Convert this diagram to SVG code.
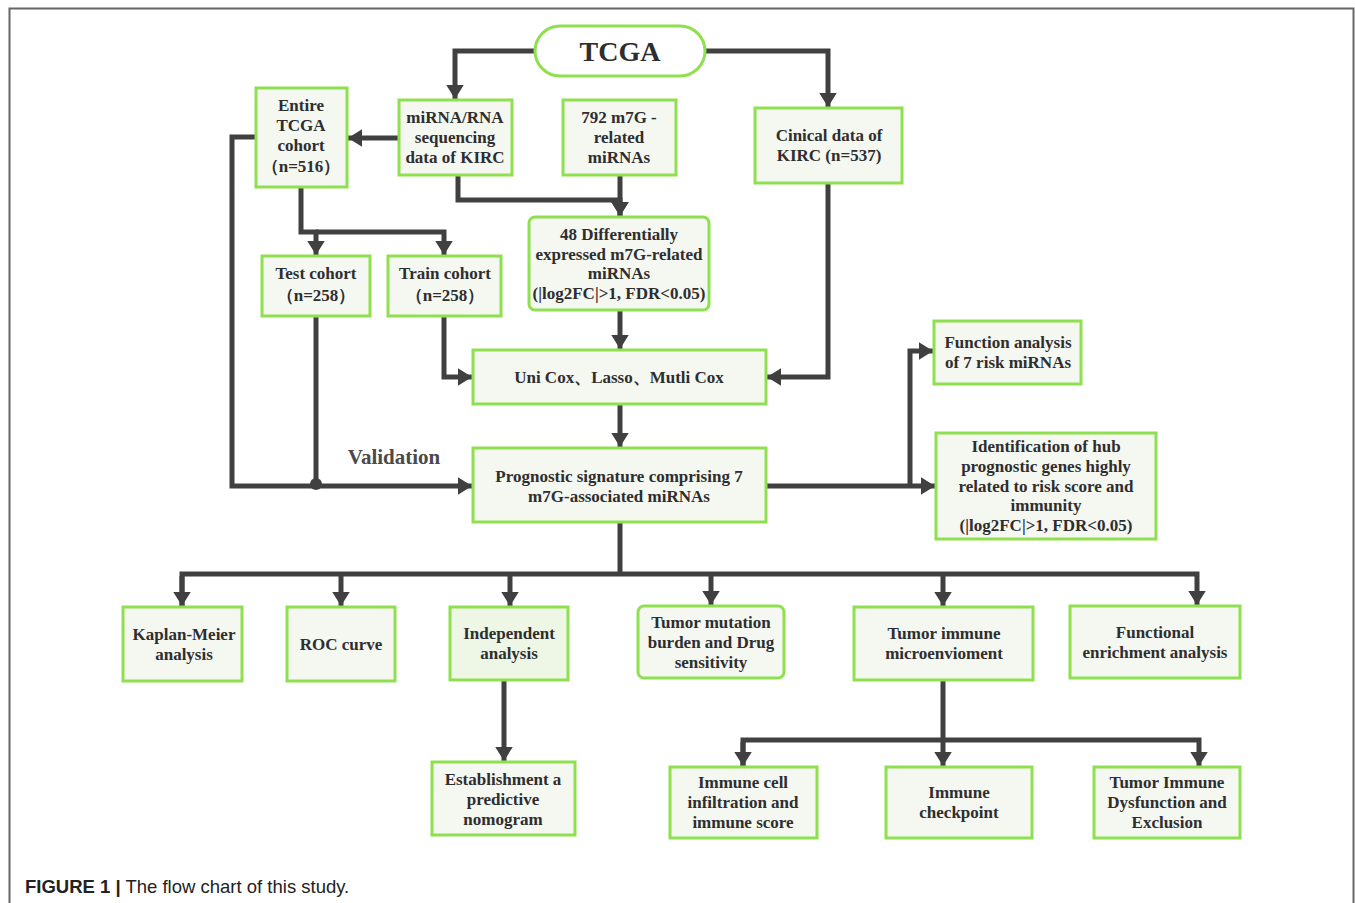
<svg xmlns="http://www.w3.org/2000/svg" width="1355" height="903" viewBox="0 0 1355 903">
<style>
.bx{fill:#f5f7f1;stroke:#8fe04f;stroke-width:3}
.t{font-family:"Liberation Serif","Times New Roman",serif;font-weight:bold;font-size:17px;fill:#2e2e2e;text-anchor:middle}
.ln{fill:none;stroke:#404040;stroke-width:5;stroke-linejoin:miter}
</style>
<defs>
<marker id="ah" viewBox="0 0 8 10" refX="8" refY="5" markerWidth="2.8" markerHeight="3.5" markerUnits="strokeWidth" orient="auto">
<path d="M0,0 L8,5 L0,10 z" fill="#404040"/>
</marker>
</defs>
<rect x="0" y="0" width="1355" height="903" fill="#fff"/>
<path d="M9.5,903 V8.5 H1353.5 V903" fill="none" stroke="#666" stroke-width="2"/>

<g id="connectors">
<path class="ln" d="M535,51 H455 V99" marker-end="url(#ah)"/>
<path class="ln" d="M705,51 H828 V107" marker-end="url(#ah)"/>
<path class="ln" d="M399,138 H348" marker-end="url(#ah)"/>
<path class="ln" d="M256,137 H232 V486 H472" marker-end="url(#ah)"/>
<path class="ln" d="M316,316 V486"/>
<circle cx="316" cy="484" r="6" fill="#404040"/>
<path class="ln" d="M301,187 V232 H316 V255" marker-end="url(#ah)"/>
<path class="ln" d="M316,232 H444 V255" marker-end="url(#ah)"/>
<path class="ln" d="M458,175 V200 H620 V216" marker-end="url(#ah)"/>
<path class="ln" d="M620,175 V216" marker-end="url(#ah)"/>
<path class="ln" d="M620,310 V349" marker-end="url(#ah)"/>
<path class="ln" d="M444,316 V377 H472" marker-end="url(#ah)"/>
<path class="ln" d="M828,183 V377 H767" marker-end="url(#ah)"/>
<path class="ln" d="M620,404 V447" marker-end="url(#ah)"/>
<path class="ln" d="M766,486 H935" marker-end="url(#ah)"/>
<path class="ln" d="M910,486 V351 H933" marker-end="url(#ah)"/>
<path class="ln" d="M620,522 V574"/>
<path class="ln" d="M182,606 V574 H1197 V605" marker-end="url(#ah)"/>
<path class="ln" d="M182,576 V606" marker-end="url(#ah)"/>
<path class="ln" d="M341,574 V606" marker-end="url(#ah)"/>
<path class="ln" d="M510,574 V606" marker-end="url(#ah)"/>
<path class="ln" d="M711,574 V605" marker-end="url(#ah)"/>
<path class="ln" d="M943,574 V606" marker-end="url(#ah)"/>
<path class="ln" d="M504,680 V761" marker-end="url(#ah)"/>
<path class="ln" d="M943,680 V766" marker-end="url(#ah)"/>
<path class="ln" d="M743,766 V740 H1199 V766" marker-end="url(#ah)"/>
<path class="ln" d="M743,742 V766" marker-end="url(#ah)"/>
</g>

<g id="tcga">
<rect x="535" y="26" width="170" height="50" rx="25" ry="25" fill="#fff" stroke="#8fe04f" stroke-width="3"/>
<text x="620" y="61" class="t" style="font-size:28px">TCGA</text>
</g>
<g id="entire">
<rect class="bx" x="256" y="88" width="91" height="99"/>
<text class="t" x="301" y="111">Entire</text>
<text class="t" x="301" y="131">TCGA</text>
<text class="t" x="301" y="151">cohort</text>
<text class="t" x="301" y="172">（n=516）</text>
</g>
<g id="mirna">
<rect class="bx" x="399" y="100" width="113" height="75"/>
<text class="t" x="455" y="123">miRNA/RNA</text>
<text class="t" x="455" y="143">sequencing</text>
<text class="t" x="455" y="163">data of KIRC</text>
</g>
<g id="m7g792">
<rect class="bx" x="563" y="100" width="113" height="75"/>
<text class="t" x="619" y="123">792 m7G -</text>
<text class="t" x="619" y="143">related</text>
<text class="t" x="619" y="163">miRNAs</text>
</g>
<g id="clinical">
<rect class="bx" x="755" y="108" width="147" height="75"/>
<text class="t" x="829" y="141">Cinical data of</text>
<text class="t" x="829" y="161">KIRC (n=537)</text>
</g>
<g id="diff48">
<rect class="bx" x="529" y="217" width="180" height="93" rx="6" ry="6"/>
<text class="t" x="619" y="240">48 Differentially</text>
<text class="t" x="619" y="260">expressed m7G-related</text>
<text class="t" x="619" y="279">miRNAs</text>
<text class="t" x="619" y="299">(|log2FC|&gt;1, FDR&lt;0.05)</text>
</g>
<g id="test">
<rect class="bx" x="262" y="256" width="108" height="60"/>
<text class="t" x="316" y="279">Test cohort</text>
<text class="t" x="316" y="301">（n=258）</text>
</g>
<g id="train">
<rect class="bx" x="388" y="256" width="113" height="60"/>
<text class="t" x="445" y="279">Train cohort</text>
<text class="t" x="445" y="301">（n=258）</text>
</g>
<g id="unicox">
<rect class="bx" x="473" y="350" width="293" height="54"/>
<text class="t" x="619" y="383">Uni Cox、Lasso、Mutli Cox</text>
</g>
<g id="validation">
<text x="394" y="464" class="t" style="font-size:21px;fill:#4a4a4a">Validation</text>
</g>
<g id="prognostic">
<rect class="bx" x="473" y="448" width="293" height="74"/>
<text class="t" x="619" y="482">Prognostic signature comprising 7</text>
<text class="t" x="619" y="502">m7G-associated miRNAs</text>
</g>
<g id="function">
<rect class="bx" x="934" y="321" width="147" height="63"/>
<text class="t" x="1008" y="348">Function analysis</text>
<text class="t" x="1008" y="368">of 7 risk miRNAs</text>
</g>
<g id="identification">
<rect class="bx" x="936" y="433" width="220" height="106"/>
<text class="t" x="1046" y="452">Identification of hub</text>
<text class="t" x="1046" y="472">prognostic genes highly</text>
<text class="t" x="1046" y="492">related to risk score and</text>
<text class="t" x="1046" y="511">immunity</text>
<text class="t" x="1046" y="531">(|log2FC|&gt;1, FDR&lt;0.05)</text>
</g>
<g id="kaplan">
<rect class="bx" x="123" y="607" width="119" height="74"/>
<text class="t" x="184" y="640">Kaplan-Meier</text>
<text class="t" x="184" y="660">analysis</text>
</g>
<g id="roc">
<rect class="bx" x="287" y="607" width="108" height="74"/>
<text class="t" x="341" y="650">ROC curve</text>
</g>
<g id="independent">
<rect class="bx" x="450" y="607" width="118" height="73" style="fill:#eef6e6"/>
<text class="t" x="509" y="639">Independent</text>
<text class="t" x="509" y="659">analysis</text>
</g>
<g id="tmb">
<rect class="bx" x="638" y="606" width="146" height="72" rx="6" ry="6"/>
<text class="t" x="711" y="628">Tumor mutation</text>
<text class="t" x="711" y="648">burden and  Drug</text>
<text class="t" x="711" y="668">sensitivity</text>
</g>
<g id="tme">
<rect class="bx" x="854" y="607" width="179" height="73"/>
<text class="t" x="944" y="639">Tumor immune</text>
<text class="t" x="944" y="659">microenvioment</text>
</g>
<g id="functional">
<rect class="bx" x="1070" y="606" width="170" height="72"/>
<text class="t" x="1155" y="638">Functional</text>
<text class="t" x="1155" y="658">enrichment analysis</text>
</g>
<g id="nomogram">
<rect class="bx" x="432" y="762" width="143" height="73"/>
<text class="t" x="503" y="785">Establishment a</text>
<text class="t" x="503" y="805">predictive</text>
<text class="t" x="503" y="825">nomogram</text>
</g>
<g id="immunecell">
<rect class="bx" x="670" y="767" width="147" height="71"/>
<text class="t" x="743" y="788">Immune cell</text>
<text class="t" x="743" y="808">infiltration and</text>
<text class="t" x="743" y="828">immune score</text>
</g>
<g id="checkpoint">
<rect class="bx" x="886" y="767" width="146" height="71"/>
<text class="t" x="959" y="798">Immune</text>
<text class="t" x="959" y="818">checkpoint</text>
</g>
<g id="tide">
<rect class="bx" x="1094" y="767" width="146" height="71"/>
<text class="t" x="1167" y="788">Tumor Immune</text>
<text class="t" x="1167" y="808">Dysfunction and</text>
<text class="t" x="1167" y="828">Exclusion</text>
</g>
<g id="caption">
<text x="25" y="893" style="font-family:'Liberation Sans',Arial,sans-serif;font-size:18.5px;fill:#222"><tspan font-weight="bold">FIGURE 1 |</tspan> The flow chart of this study.</text>
</g>
</svg>
